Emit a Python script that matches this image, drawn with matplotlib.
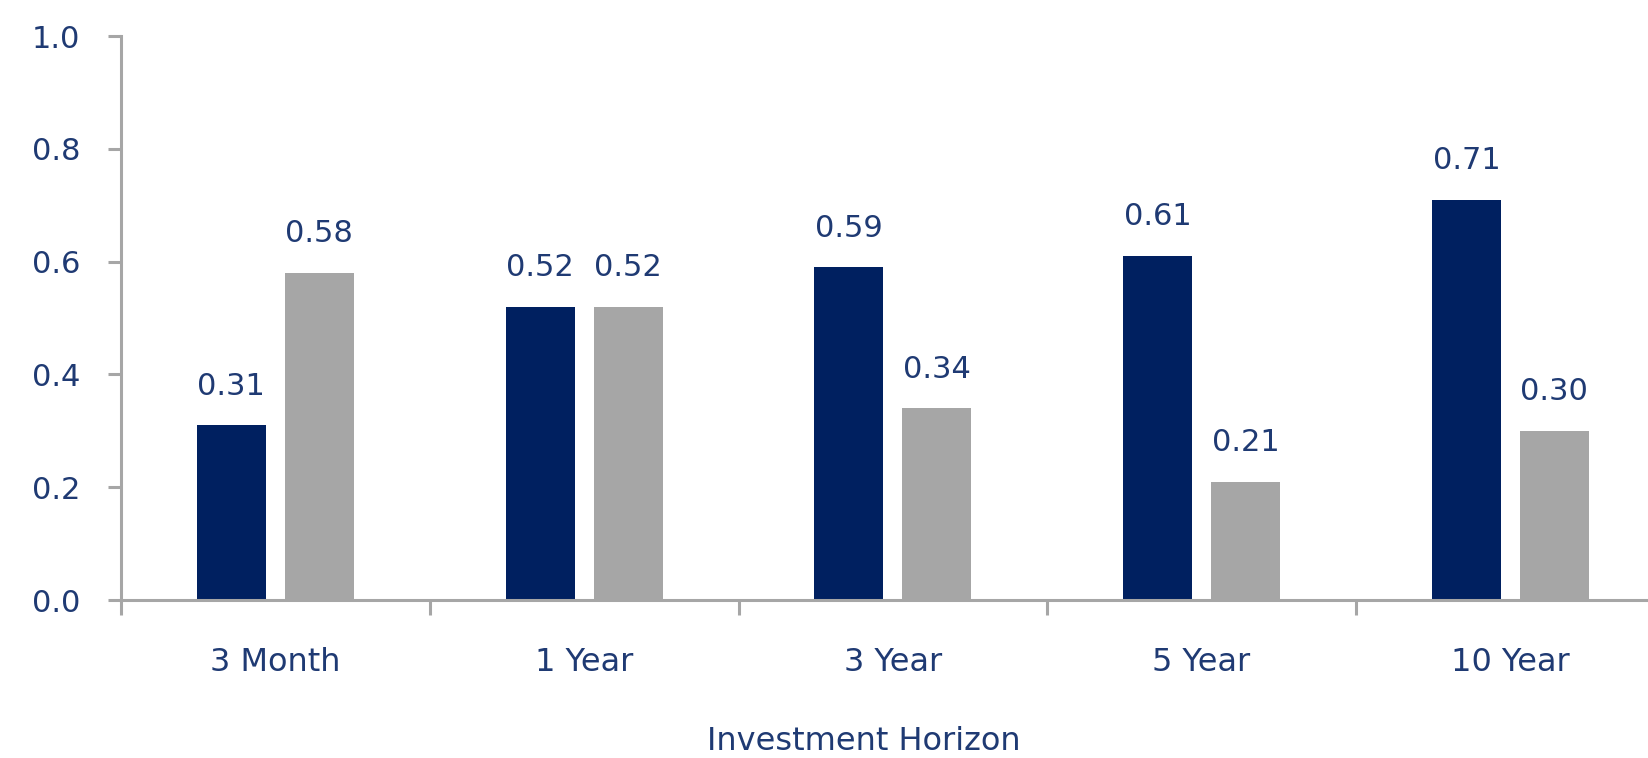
import numpy as np
import matplotlib
matplotlib.use("Agg")
import matplotlib.pyplot as plt
from matplotlib.ticker import FixedLocator

# Data
horizons = ["3 Month", "1 Year", "3 Year", "5 Year", "10 Year"]
series_a = [0.31, 0.52, 0.59, 0.61, 0.71]
series_b = [0.58, 0.52, 0.34, 0.21, 0.30]

navy = "#002060"
grey = "#A6A6A6"
text_col = "#1F3A73"
axis_col = "#A6A6A6"

plt.rcParams["font.family"] = ["DejaVu Sans"]

W, H = 1648, 758
fig = plt.figure(figsize=(W / 100, H / 100), dpi=100)

# axes box in pixels: left spine at x=121, y from 36 (1.0) to 600 (0.0)
left, top, bottom = 121, 36, 600
ax = fig.add_axes([left / W, (H - bottom) / H, (W - left) / W, (bottom - top) / H])

step = 308.75  # pixels per category
x = np.arange(len(horizons))
width = 0.2235
offset = 0.1425

bars_a = ax.bar(x - offset, series_a, width, color=navy)
bars_b = ax.bar(x + offset, series_b, width, color=grey)

# value labels above bars
for bars, vals in [(bars_a, series_a), (bars_b, series_b)]:
    for b, v in zip(bars, vals):
        ax.annotate(f"{v:.2f}", (b.get_x() + b.get_width() / 2, v),
                    xytext=(0, 22), textcoords="offset points",
                    ha="center", va="baseline", fontsize=22, color=text_col)

ax.set_ylim(0, 1.0)
ax.set_xlim(-0.5, -0.5 + (W - left) / step)

ax.set_yticks(np.arange(0, 1.01, 0.2))
ax.set_yticklabels([f"{v:.1f}" for v in np.arange(0, 1.01, 0.2)])
ax.tick_params(axis="y", direction="out", length=9.5, width=2.2, color=axis_col,
               labelsize=22, labelcolor=text_col, pad=20)

# category labels in the middle, tick marks between categories
ax.set_xticks(x)
ax.set_xticklabels(horizons)
ax.xaxis.set_minor_locator(FixedLocator(np.arange(-0.5, len(horizons), 1.0)))
ax.tick_params(axis="x", which="major", length=0, labelsize=23,
               labelcolor=text_col, pad=34)
ax.tick_params(axis="x", which="minor", direction="out", length=11, width=2.2,
               color=axis_col)

for s in ["top", "right"]:
    ax.spines[s].set_visible(False)
for s in ["left", "bottom"]:
    ax.spines[s].set_color(axis_col)
    ax.spines[s].set_linewidth(2.2)

fig.text(864 / W, 1 / H, "Investment Horizon", ha="center", va="bottom",
         fontsize=23, color=text_col)

fig.savefig("out.png", dpi=100)
